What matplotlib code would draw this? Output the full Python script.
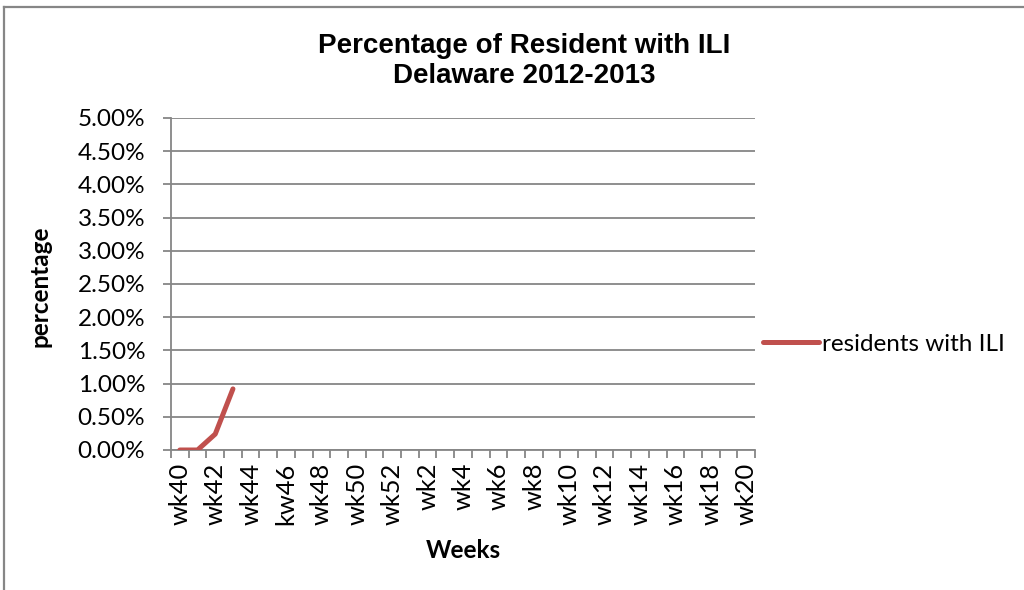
import numpy as np
import matplotlib
matplotlib.use("Agg")
import matplotlib.pyplot as plt
from matplotlib.lines import Line2D
from matplotlib.ticker import FixedLocator, MultipleLocator, FuncFormatter

weeks = ["wk40", "wk41", "wk42", "wk43", "wk44", "wk45", "kw46", "wk47", "wk48",
         "wk49", "wk50", "wk51", "wk52", "wk1", "wk2", "wk3", "wk4", "wk5", "wk6",
         "wk7", "wk8", "wk9", "wk10", "wk11", "wk12", "wk13", "wk14", "wk15",
         "wk16", "wk17", "wk18", "wk19", "wk20"]
ili_values = [0.0, 0.0, 0.0024, 0.0092]
series_name = "residents with ILI"
title_text = "Percentage of Resident with ILI\nDelaware 2012-2013"
y_label = "percentage"
x_label = "Weeks"

W, H = 1024, 590
fig = plt.figure(figsize=(W / 100, H / 100), dpi=100)
fig.patch.set_facecolor("white")

def fx(px):
    return px / W

def fy(py):
    return 1 - py / H

ax = fig.add_axes([fx(171), fy(450), fx(755) - fx(171), fy(118) - fy(450)])

tick_font = "Lato"
grid_col = "#868686"
line_col = "#C0504D"

y = np.full(len(weeks), np.nan)
y[:len(ili_values)] = ili_values
x = np.arange(len(weeks))
ln, = ax.plot(x, y, color=line_col, lw=3.6, solid_capstyle="round",
              solid_joinstyle="round", label=series_name, zorder=3)

ax.set_xlim(-0.5, len(weeks) - 0.5)
ax.set_ylim(0, 0.05)
ax.yaxis.set_major_locator(MultipleLocator(0.005))
ax.yaxis.set_major_formatter(FuncFormatter(lambda v, p: f"{v*100:.2f}%"))
ax.grid(axis="y", color=grid_col, lw=1.3, zorder=0)
ax.set_axisbelow(True)

label_pos = x[::2]
ax.xaxis.set_major_locator(FixedLocator(label_pos))
ax.set_xticklabels([weeks[i] for i in label_pos], rotation=90, va="top", ha="center")
ax.xaxis.set_minor_locator(FixedLocator(np.arange(-0.5, len(weeks), 1.0)))
ax.tick_params(axis="x", which="major", length=0, pad=9, labelsize=18.3)
ax.tick_params(axis="x", which="minor", length=5.5, width=1.3, color=grid_col, direction="out")
ax.tick_params(axis="y", which="major", length=5.5, width=1.3, color=grid_col, pad=13, labelsize=17.5)
for lab in ax.get_xticklabels() + ax.get_yticklabels():
    lab.set_fontfamily(tick_font)

for s in ["top", "right"]:
    ax.spines[s].set_visible(False)
for s in ["left", "bottom"]:
    ax.spines[s].set_color(grid_col)
    ax.spines[s].set_linewidth(1.3)

fig.text(fx(524), fy(61), title_text, ha="center", va="center",
         fontsize=20, fontweight="bold", family="Liberation Sans", linespacing=1.22)
fig.text(fx(40), fy(286), y_label, rotation=90, ha="center", va="center",
         fontsize=17.5, fontweight="bold", family=tick_font)
fig.text(fx(463), fy(550), x_label, ha="center", va="center",
         fontsize=17.5, fontweight="bold", family=tick_font)

leg = ax.legend(handles=[ln], loc="center left", bbox_to_anchor=(fx(763), fy(344)),
                bbox_transform=fig.transFigure, frameon=False, borderpad=0,
                borderaxespad=0, handlelength=2.3, handletextpad=0.12,
                prop={"family": tick_font, "size": 17.5})

# outer chart border (top and left visible)
fig.add_artist(Line2D([fx(4), fx(4)], [0, fy(7)], color=grid_col, lw=1.6))
fig.add_artist(Line2D([fx(4), 1], [fy(7), fy(7)], color=grid_col, lw=1.6))

fig.savefig("out.png", dpi=100, facecolor="white")
